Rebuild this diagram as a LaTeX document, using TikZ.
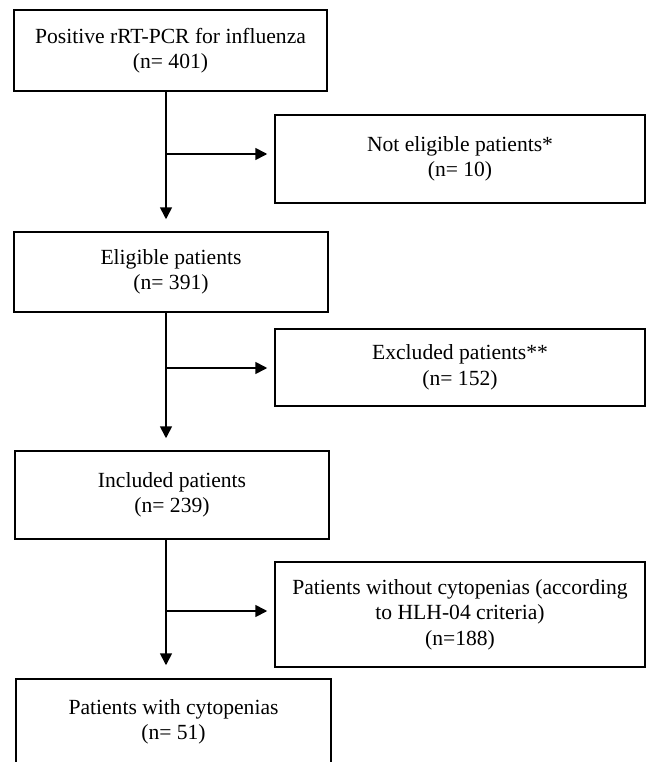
\documentclass[tikz,border=0pt]{standalone}
\usepackage{fontspec}
\setmainfont{Liberation Serif}
\usetikzlibrary{arrows.meta, positioning}

\begin{document}
\begin{tikzpicture}[
    x=1pt, y=-1pt,
    box/.style={rectangle, draw=black, line width=1.5pt, align=center,
                inner sep=2pt, font=\fontsize{21.6}{25.5}\selectfont},
    arr/.style={-{Triangle[length=12pt, width=12pt]}, line width=1.7pt,
                shorten >=#1},
  ]
    \useasboundingbox (0,0) rectangle (646,762);

    % main column
    \node[box, minimum width=313pt, minimum height=81pt] (pos) at (170.5,50.5)
      {Positive rRT-PCR for influenza\\(n= 401)};
    \node[box, minimum width=314pt, minimum height=80pt] (elig) at (171,272)
      {Eligible patients\\(n= 391)};
    \node[box, minimum width=314pt, minimum height=88pt] (incl) at (172,495)
      {Included patients\\(n= 239)};
    \node[box, minimum width=315pt, minimum height=86pt] (cyto) at (173.5,722)
      {Patients with cytopenias\\(n= 51)};

    % side boxes
    \node[box, minimum width=370pt, minimum height=88pt] (notelig) at (460,159)
      {Not eligible patients*\\(n= 10)};
    \node[box, minimum width=370pt, minimum height=77pt] (excl) at (460,367.5)
      {Excluded patients**\\(n= 152)};
    \node[box, minimum width=370pt, minimum height=105pt] (nocyto) at (460,614.5)
      {Patients without cytopenias (according\\to HLH-04 criteria)\\(n=188)};

    \coordinate (spine) at (166,0);
    \coordinate (b1) at (166,154);
    \coordinate (b2) at (166,368);
    \coordinate (b3) at (166,611);

    \draw[arr=12pt] (pos.south -| spine) -- (elig.north -| spine);
    \draw[arr=12pt] (elig.south -| spine) -- (incl.north -| spine);
    \draw[arr=13pt] (incl.south -| spine) -- (cyto.north -| spine);

    \draw[arr=7pt] (b1) -- (b1 -| notelig.west);
    \draw[arr=7pt] (b2) -- (b2 -| excl.west);
    \draw[arr=7pt] (b3) -- (b3 -| nocyto.west);
  \end{tikzpicture}
\end{document}
